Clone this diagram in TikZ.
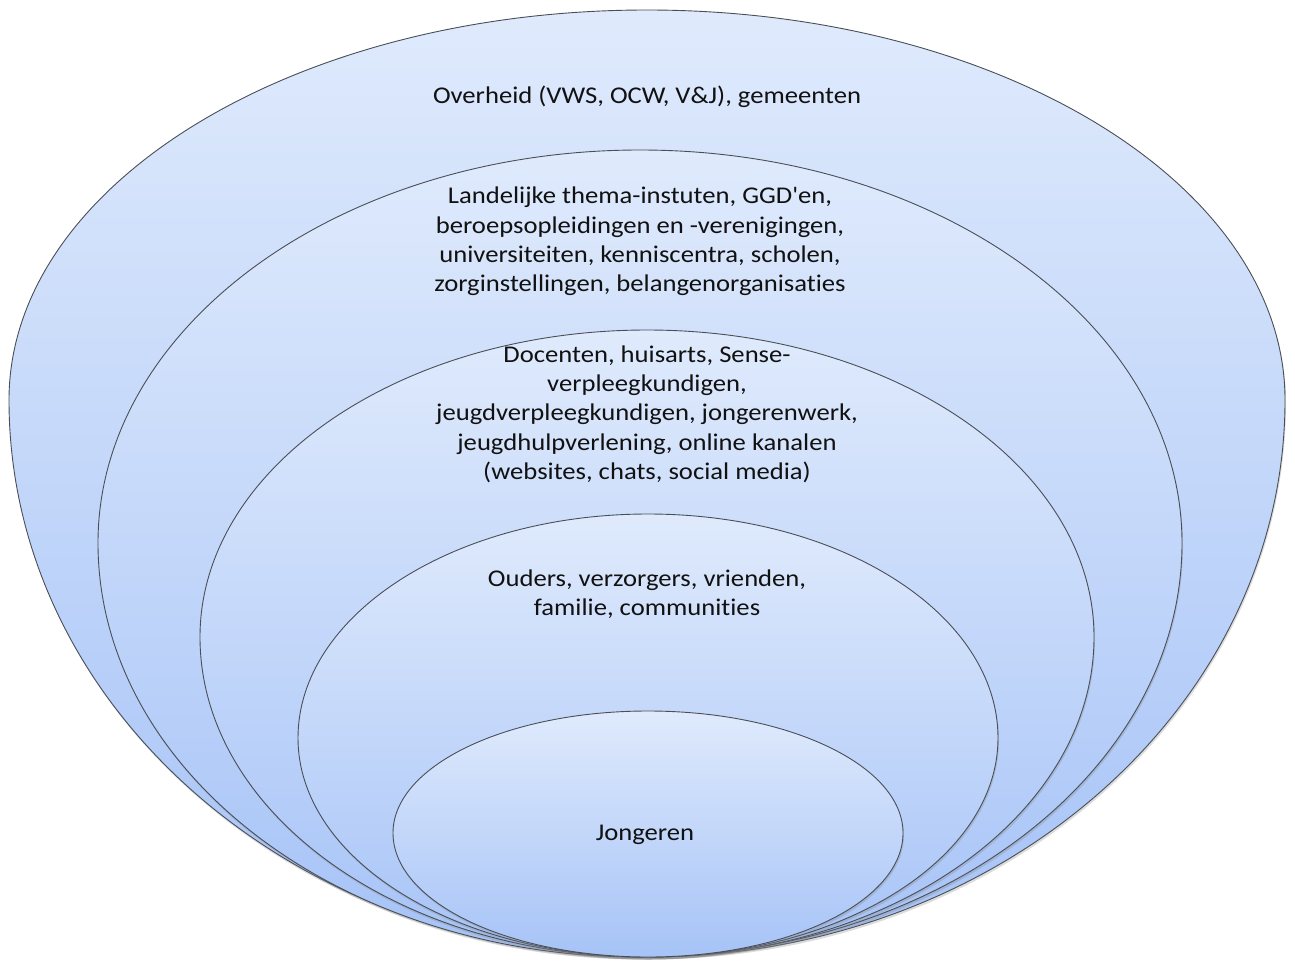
\documentclass[tikz,border=0pt]{standalone}
\usepackage{fontspec}
\usepackage{graphicx}
\setmainfont{Carlito}[Ligatures=NoCommon]
\usetikzlibrary{shadows}
\definecolor{topblue}{HTML}{DFEAFC}
\definecolor{botblue}{HTML}{A6C3F7}
\definecolor{rim}{HTML}{4A4F57}
\definecolor{txt}{HTML}{111111}
\newcommand{\widetext}[1]{\scalebox{1.11}[1]{\begin{tabular}{@{}c@{}}#1\end{tabular}}}
\tikzset{
  layer/.style={draw=rim, line width=0.9pt, top color=topblue, bottom color=botblue,
    drop shadow={opacity=0.28, shadow xshift=1pt, shadow yshift=-2.5pt}},
  lbl/.style={align=center, text=txt, font=\fontsize{24}{29.3}\selectfont, inner sep=0pt}
}
\begin{document}
\begin{tikzpicture}[x=1pt,y=1pt]
\useasboundingbox (0,0) rectangle (1295,-963);
% outer
\path[layer] (9,-400) arc[start angle=180,end angle=0,x radius=638pt,y radius=390pt]
  arc[start angle=0,end angle=-180,x radius=638pt,y radius=557pt] -- cycle;
% second
\path[layer] (98,-543) arc[start angle=180,end angle=0,x radius=542pt,y radius=393pt]
  arc[start angle=0,end angle=-180,x radius=542pt,y radius=414pt] -- cycle;
% third
\path[layer] (200,-637) arc[start angle=180,end angle=0,x radius=447pt,y radius=307pt]
  arc[start angle=0,end angle=-180,x radius=447pt,y radius=320pt] -- cycle;
% fourth
\path[layer] (298,-738) arc[start angle=180,end angle=0,x radius=350pt,y radius=224pt]
  arc[start angle=0,end angle=-180,x radius=350pt,y radius=219pt] -- cycle;
% fifth
\path[layer] (393,-833) arc[start angle=180,end angle=0,x radius=255pt,y radius=122pt]
  arc[start angle=0,end angle=-180,x radius=255pt,y radius=124pt] -- cycle;

\node[lbl] (t1) at (647,-98) {\widetext{Overheid (VWS, OCW, V\&J), gemeenten}};
\node[lbl] (t2) at (640,-242) {\widetext{Landelijke thema-instuten, GGD\textquotesingle en,\\beroepsopleidingen en -verenigingen,\\universiteiten, kenniscentra, scholen,\\zorginstellingen, belangenorganisaties}};
\node[lbl] (t3) at (647,-415) {\widetext{Docenten, huisarts, Sense-\\verpleegkundigen,\\jeugdverpleegkundigen, jongerenwerk,\\jeugdhulpverlening, online kanalen\\(websites, chats, social media)}};
\node[lbl] (t4) at (647,-595) {\widetext{Ouders, verzorgers, vrienden,\\familie, communities}};
\node[lbl] (t5) at (645,-835) {\widetext{Jongeren}};
\end{tikzpicture}
\end{document}
